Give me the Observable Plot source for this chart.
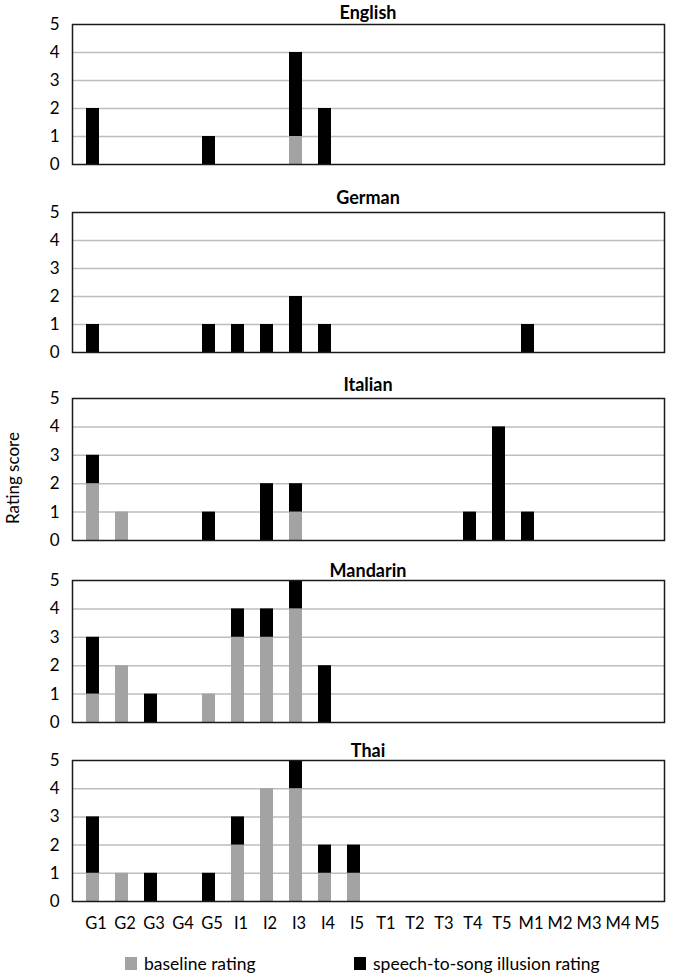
<!DOCTYPE html>
<html>
<head>
<meta charset="utf-8">
<script src="https://cdn.jsdelivr.net/npm/d3@7"></script>
<script src="https://cdn.jsdelivr.net/npm/@observablehq/plot@0.6"></script>
<style>
  body { margin: 0; background: #fff; }
  #wrap { position: relative; width: 681px; height: 977px; font-family: Lato, "Open Sans", sans-serif; color: #000; }
  .panel { position: absolute; left: 0; }
  .title { position: absolute; left: 72px; width: 592px; text-align: center; font-weight: bold; font-size: 18px; line-height: 18px; }
  .ylab { position: absolute; left: 12px; top: 478px; transform: translate(-50%, -50%) rotate(-90deg); font-size: 17px; white-space: nowrap; }
  .leg { position: absolute; font-size: 17.5px; display: flex; align-items: center; }
  .sw { width: 12px; height: 13px; margin-right: 7px; display: inline-block; }
</style>
</head>
<body>
<div id="wrap"></div>
<script>
const categories = ["G1","G2","G3","G4","G5","I1","I2","I3","I4","I5","T1","T2","T3","T4","T5","M1","M2","M3","M4","M5"];
const languages = ["English","German","Italian","Mandarin","Thai"];
const seriesNames = ["baseline rating","speech-to-song illusion rating"];
const yTicks = [0,1,2,3,4,5];

const englishBaseline  = [0,0,0,0,0, 0,0,1,0,0, 0,0,0,0,0, 0,0,0,0,0];
const englishIllusion  = [2,0,0,0,1, 0,0,3,2,0, 0,0,0,0,0, 0,0,0,0,0];
const germanBaseline   = [0,0,0,0,0, 0,0,0,0,0, 0,0,0,0,0, 0,0,0,0,0];
const germanIllusion   = [1,0,0,0,1, 1,1,2,1,0, 0,0,0,0,0, 1,0,0,0,0];
const italianBaseline  = [2,1,0,0,0, 0,0,1,0,0, 0,0,0,0,0, 0,0,0,0,0];
const italianIllusion  = [1,0,0,0,1, 0,2,1,0,0, 0,0,0,1,4, 1,0,0,0,0];
const mandarinBaseline = [1,2,0,0,1, 3,3,4,0,0, 0,0,0,0,0, 0,0,0,0,0];
const mandarinIllusion = [2,0,1,0,0, 1,1,1,2,0, 0,0,0,0,0, 0,0,0,0,0];
const thaiBaseline     = [1,1,0,0,0, 2,4,4,1,1, 0,0,0,0,0, 0,0,0,0,0];
const thaiIllusion     = [2,0,1,0,1, 1,0,1,1,1, 0,0,0,0,0, 0,0,0,0,0];

const panels = [
  {name: "English",  baseline: englishBaseline,  illusion: englishIllusion,  top: 24,  bottom: 164, titleY: 3},
  {name: "German",   baseline: germanBaseline,   illusion: germanIllusion,   top: 212, bottom: 352, titleY: 188},
  {name: "Italian",  baseline: italianBaseline,  illusion: italianIllusion,  top: 398, bottom: 540, titleY: 375},
  {name: "Mandarin", baseline: mandarinBaseline, illusion: mandarinIllusion, top: 580, bottom: 722, titleY: 561},
  {name: "Thai",     baseline: thaiBaseline,     illusion: thaiIllusion,     top: 760, bottom: 901, titleY: 741}
];

const wrap = document.getElementById("wrap");

panels.forEach((p, i) => {
  const last = i === panels.length - 1;
  const rows = [];
  categories.forEach((c, k) => {
    rows.push({cat: c, series: seriesNames[0], value: p.baseline[k]});
    rows.push({cat: c, series: seriesNames[1], value: p.illusion[k]});
  });
  const mt = 10, mb = last ? 40 : 10;
  const chart = Plot.plot({
    width: 681,
    height: (p.bottom - p.top) + mt + mb,
    marginLeft: 72, marginRight: 17, marginTop: mt, marginBottom: mb,
    style: {fontFamily: "Lato, 'Open Sans', sans-serif", fontSize: "17px", color: "#000", background: "transparent", overflow: "visible"},
    x: {domain: categories, paddingInner: 0.56, paddingOuter: 0.28, align: 0.5, axis: null},
    y: {domain: [0, 5], ticks: yTicks, tickSize: 0, tickPadding: 13, label: null, tickFormat: d3.format("d")},
    color: {domain: seriesNames, range: ["#a3a3a3", "#000000"]},
    marks: [
      Plot.ruleY([1,2,3,4], {stroke: "#bdbdbd", strokeWidth: 1.5}),
      Plot.barY(rows.filter(r => r.value > 0), {x: "cat", y: "value", fill: "series", order: seriesNames}),
      Plot.frame({stroke: "#1a1a1a", strokeWidth: 1.5}),
      ...(last ? [Plot.axisX({tickSize: 0, tickPadding: 16, label: null, dx: 3, fontSize: 16.5})] : [])
    ]
  });
  const div = document.createElement("div");
  div.className = "panel";
  div.style.top = (p.top - mt) + "px";
  div.appendChild(chart);
  wrap.appendChild(div);

  const t = document.createElement("div");
  t.className = "title";
  t.style.top = p.titleY + "px";
  t.textContent = p.name;
  wrap.appendChild(t);
});

const yl = document.createElement("div");
yl.className = "ylab";
yl.textContent = "Rating score";
wrap.appendChild(yl);

const legendItems = [
  {label: seriesNames[0], color: "#a3a3a3", x: 125},
  {label: seriesNames[1], color: "#000000", x: 354}
];
legendItems.forEach(it => {
  const l = document.createElement("div");
  l.className = "leg";
  l.style.left = it.x + "px";
  l.style.top = "953px";
  l.innerHTML = `<span class="sw" style="background:${it.color}"></span><span>${it.label}</span>`;
  wrap.appendChild(l);
});
</script>
</body>
</html>
